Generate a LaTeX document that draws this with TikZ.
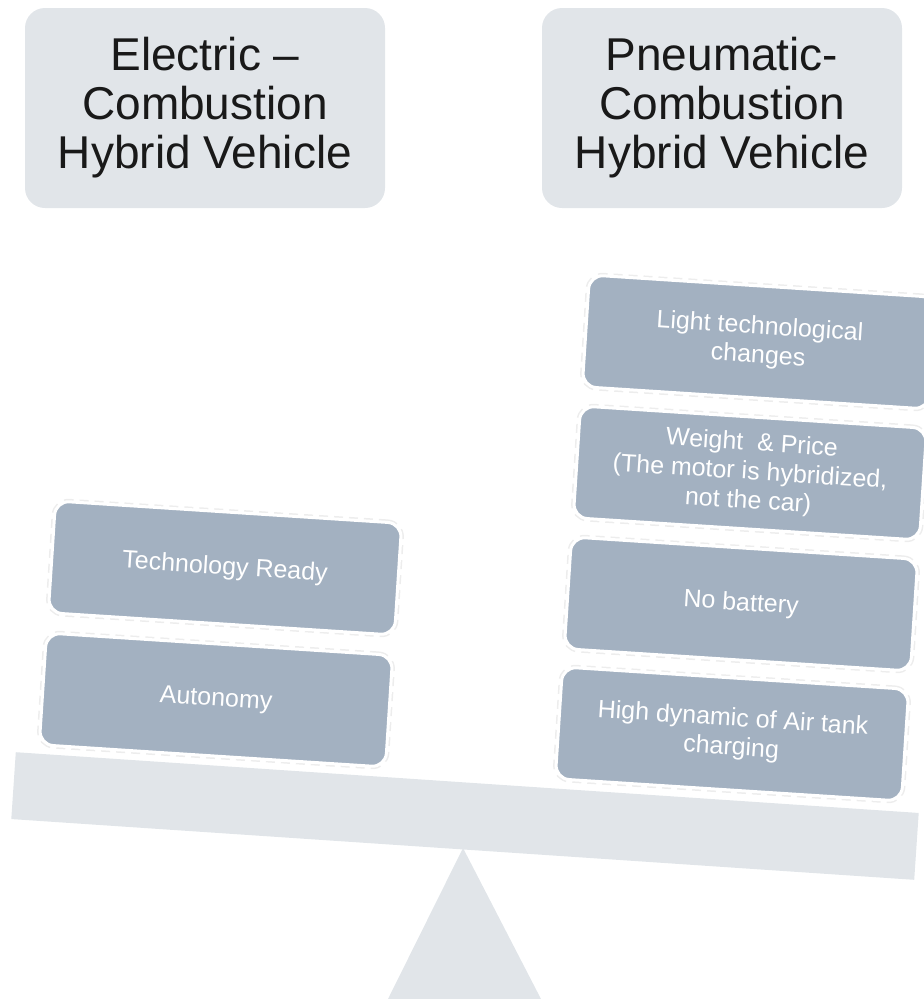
\documentclass[tikz,border=0pt]{standalone}
\usepackage{fontspec}
\setmainfont{Liberation Sans}
\definecolor{panel}{HTML}{E1E5E9}
\definecolor{slab}{HTML}{A3B1C1}
\begin{document}
\begin{tikzpicture}[x=1pt,y=-1pt,
  title/.style={fill=panel,rounded corners=20pt,minimum width=360pt,minimum height=200pt,
    align=center,text=black!90,font=\fontsize{46}{49}\selectfont},
  slabbox/.style={fill=slab,draw=white,line width=3pt,rounded corners=14pt,
    minimum width=347pt,minimum height=112pt,align=center,text=white,
    font=\fontsize{25}{29}\selectfont,rotate=-3.7,
    preaction={draw=gray!14,dash pattern=on 9pt off 6pt,line width=6pt}}]
  \useasboundingbox (0,0) rectangle (924,999);
  % fulcrum and beam
  \fill[panel] (388,999) -- (463,848) -- (541,999) -- cycle;
  \node[fill=panel,inner sep=0pt,minimum width=905pt,minimum height=67pt,rotate=-3.85] (beam) at (465,816) {};
  % titles
  \node[title] (ecomb) at (205,108) {Electric –\\Combustion\\Hybrid Vehicle};
  \node[title] (pcomb) at (722,108) {Pneumatic-\\Combustion\\Hybrid Vehicle};
  % left pan
  \node[slabbox] (autonomy) at (216,700) {Autonomy};
  \node[slabbox] (ready) at (225,568) {Technology Ready};
  % right pan
  \node[slabbox] (airtank) at (732,734) {High dynamic of Air tank\\charging};
  \node[slabbox] (nobattery) at (741,604) {No battery};
  \node[slabbox] (weight) at (750,473) {Weight\ \ \& Price\\(The motor is hybridized,\\not the car)};
  \node[slabbox] (light) at (759,342) {Light technological\\changes};
\end{tikzpicture}
\end{document}
